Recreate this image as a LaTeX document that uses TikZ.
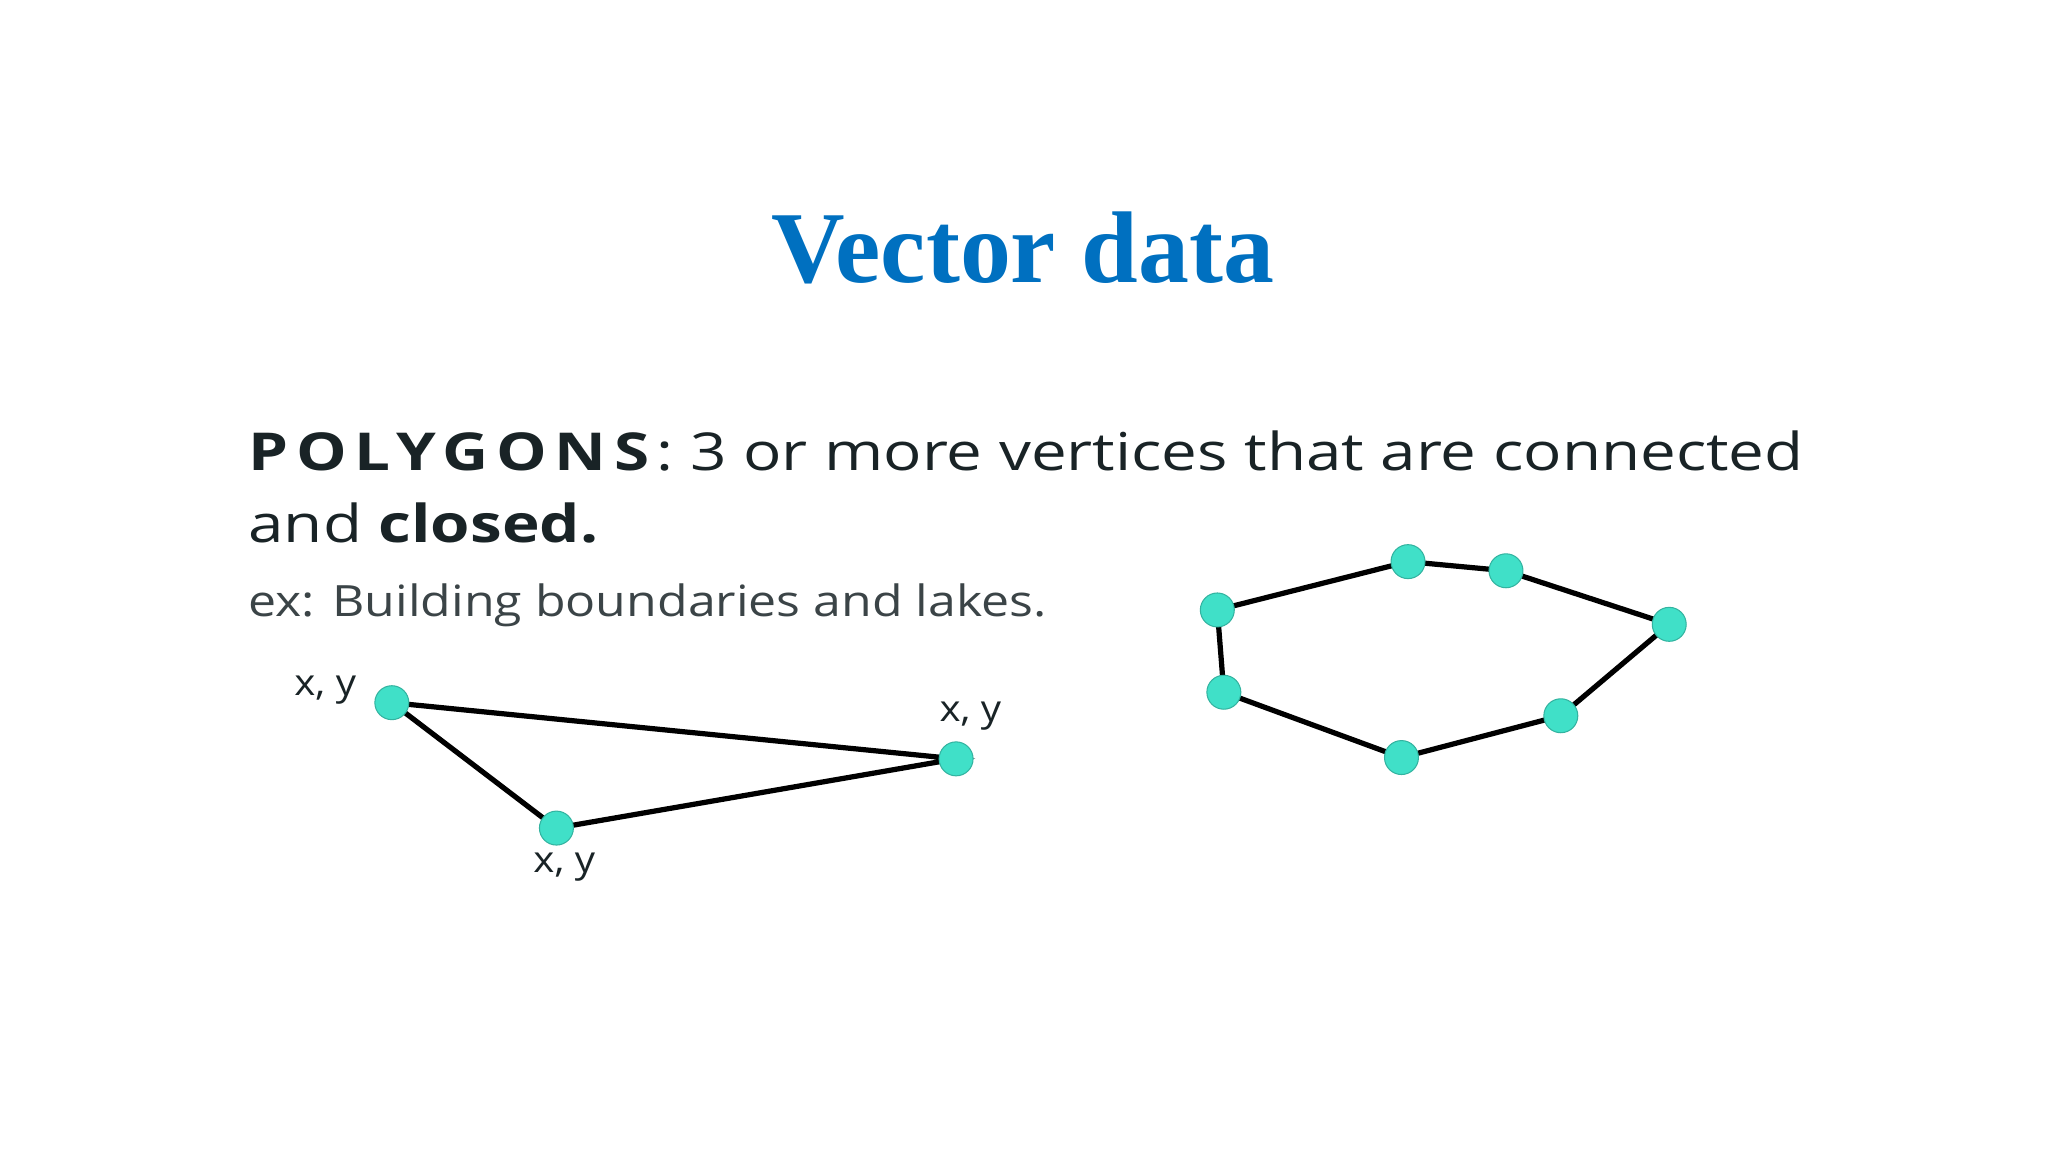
\documentclass[tikz,border=0pt]{standalone}
\usepackage{fontspec}
\setmainfont{Liberation Serif}
\newfontfamily\bodyfont{Open Sans}
\definecolor{titleblue}{RGB}{0,112,192}
\definecolor{dotcol}{RGB}{64,224,200}
\definecolor{txt}{RGB}{25,35,38}
\begin{document}
\begin{tikzpicture}[x=1pt,y=-1pt,
  vtx/.style={circle,fill=dotcol,draw=dotcol!80!black,line width=0.8pt,minimum size=26pt,inner sep=0pt},
  edge/.style={line width=4pt,black},
  lbl/.style={font=\bodyfont\fontsize{28}{30}\selectfont,text=txt,inner sep=0pt,xscale=1.1,transform shape}]
\useasboundingbox (0,0) rectangle (1568,882);
\node[font=\bfseries\fontsize{78}{80}\selectfont,text=titleblue] (title) at (783,190) {Vector data};
\node[anchor=base west,inner sep=0pt,text=txt,font=\bodyfont\fontsize{40}{44}\selectfont,xscale=1.22,transform shape] (l1) at (190,360)
  {\textbf{\addfontfeatures{LetterSpace=12}POLYGONS}: 3 or more vertices that are connected};
\node[anchor=base west,inner sep=0pt,text=txt,font=\bodyfont\fontsize{40}{44}\selectfont,xscale=1.22,transform shape] (l2) at (190,415)
  {and \textbf{closed.}};
\node[anchor=base west,inner sep=0pt,text=txt!85,font=\bodyfont\fontsize{33}{36}\selectfont,xscale=1.16,transform shape] (l3) at (190,472)
  {ex: Building boundaries and lakes.};
% triangle
\coordinate (t1) at (300,538); \coordinate (t2) at (426,634); \coordinate (t3) at (732,581);
\draw[edge] (t1) -- (t2) -- (t3) -- cycle;
\foreach \p in {t1,t2,t3} \node[vtx] (n\p) at (\p) {};
\node[lbl] (x1) at (249,528) {x, y};
\node[lbl] (x2) at (743,548) {x, y};
\node[lbl] (x3) at (432,664) {x, y};
% heptagon
\coordinate (h1) at (932,467); \coordinate (h2) at (1078,430); \coordinate (h3) at (1153,437);
\coordinate (h4) at (1278,478); \coordinate (h5) at (1195,548); \coordinate (h6) at (1073,580);
\coordinate (h7) at (937,530);
\draw[edge] (h1)--(h2)--(h3)--(h4)--(h5)--(h6)--(h7)--cycle;
\foreach \p in {h1,h2,h3,h4,h5,h6,h7} \node[vtx] (n\p) at (\p) {};
\end{tikzpicture}
\end{document}
